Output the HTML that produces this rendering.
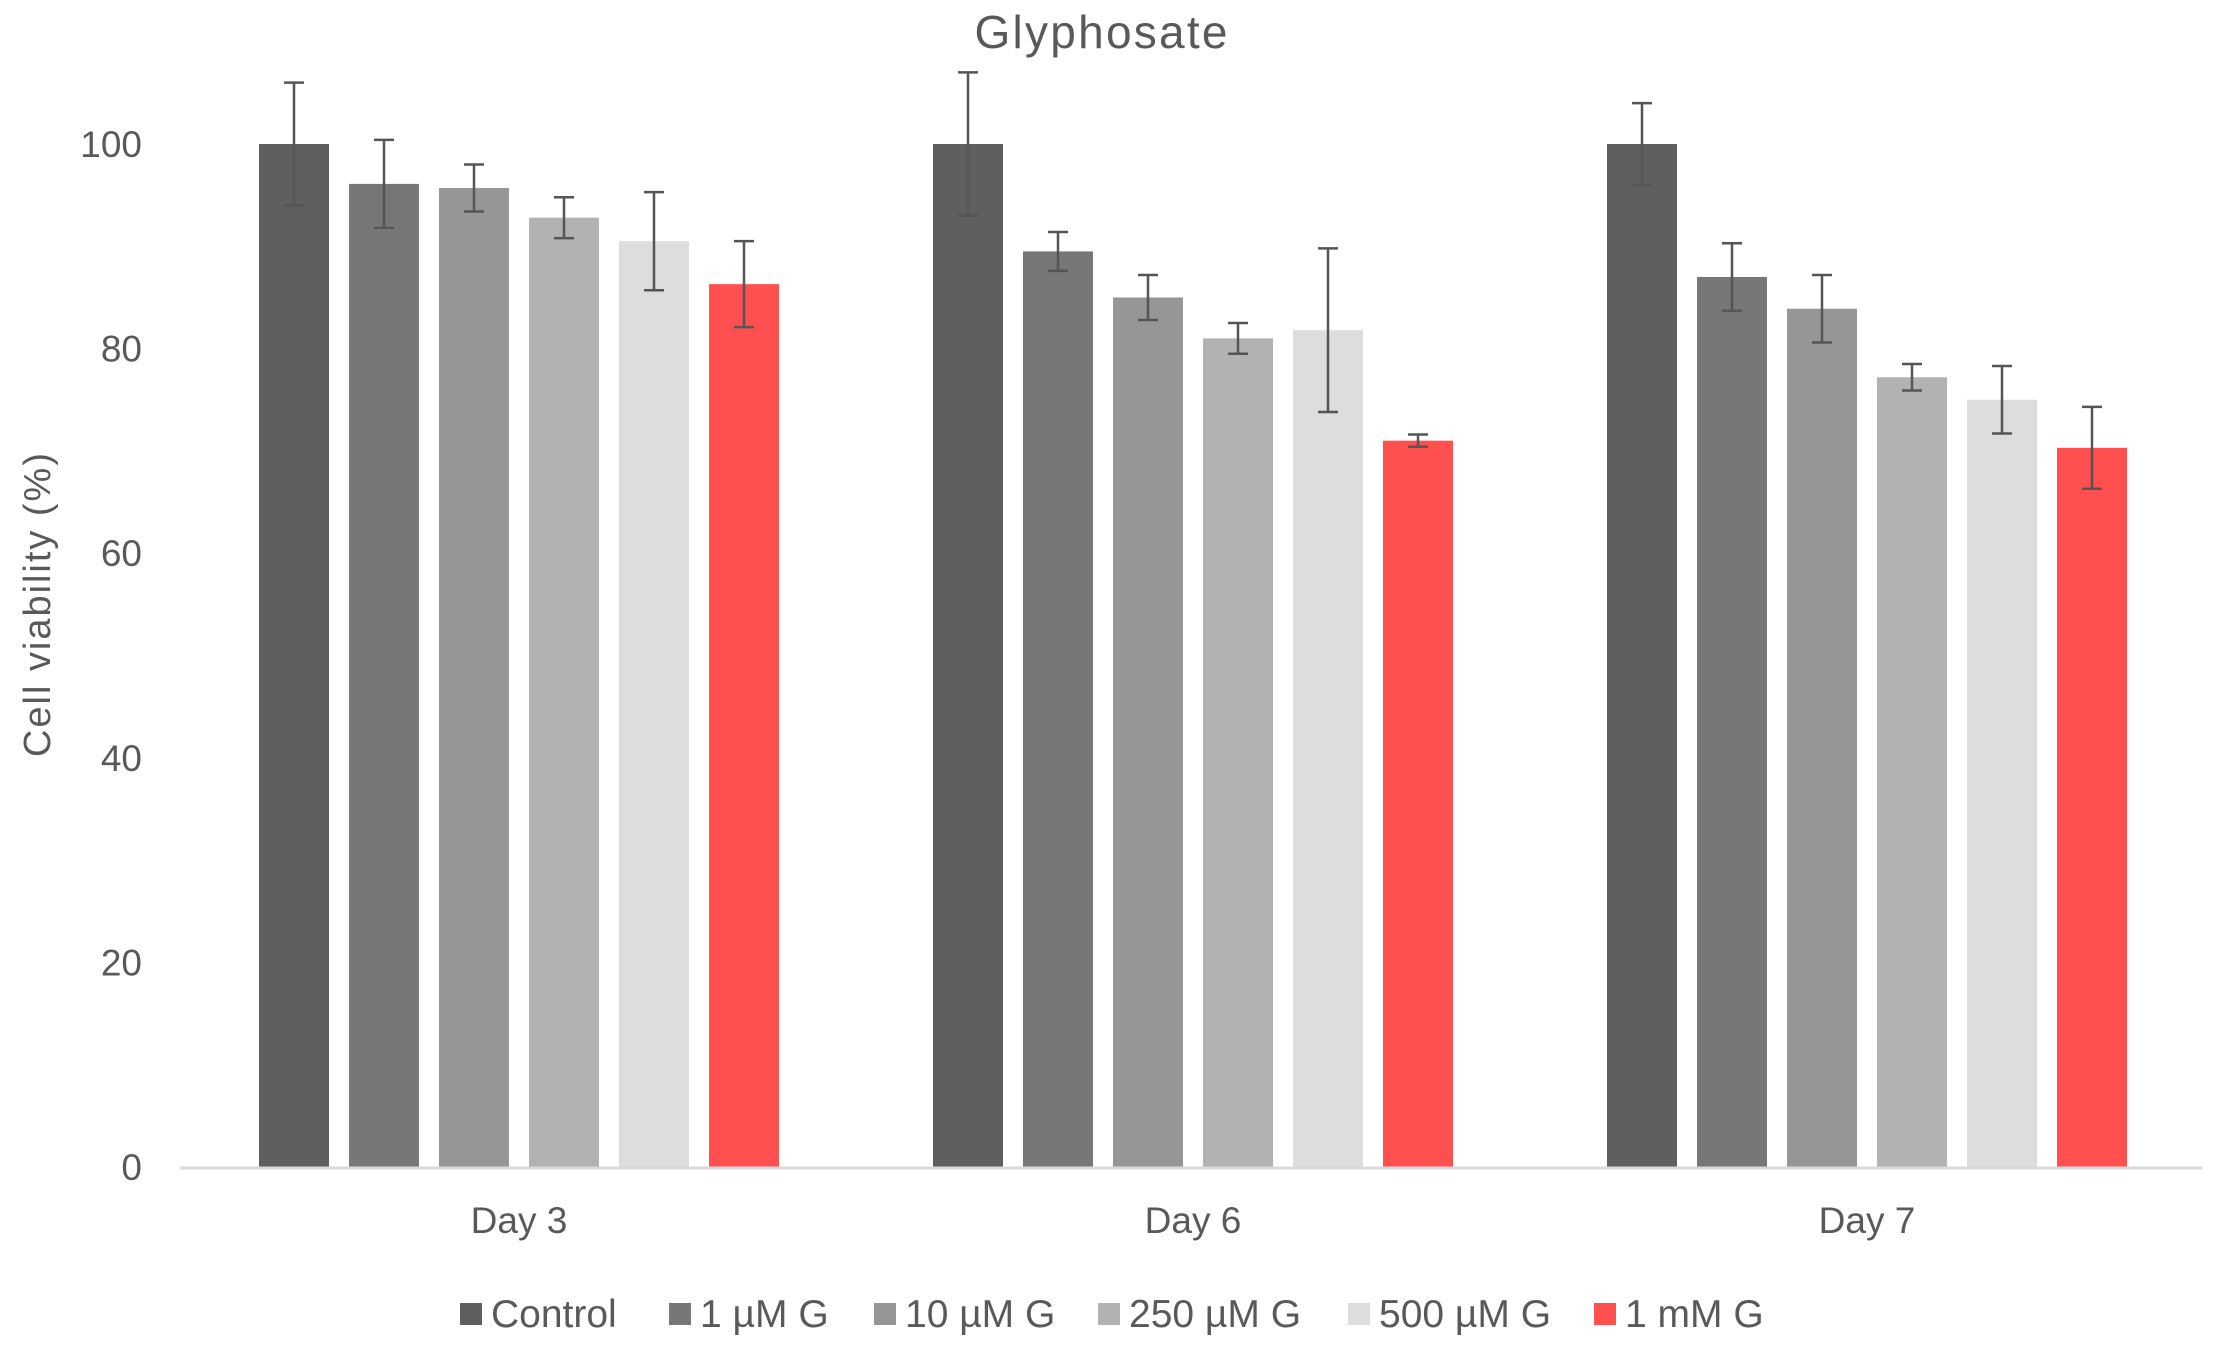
<!DOCTYPE html>
<html><head><meta charset="utf-8"><style>
body{margin:0;background:#fff;}
svg{display:block;font-family:"Liberation Sans","DejaVu Sans",sans-serif;}
</style></head><body>
<svg id="chart" width="2218" height="1346" viewBox="0 0 2218 1346">
<text x="1101" y="48" text-anchor="middle" font-size="46" textLength="253" fill="#595959">Glyphosate</text>
<text transform="translate(50,605) rotate(-90)" text-anchor="middle" font-size="38" textLength="304" fill="#595959">Cell viability  (%)</text>
<g id="yticks"></g>
<g id="bars"></g>
<g id="errs"></g>
<g id="xlabels"></g>
<g id="legend"></g>
</svg>
<script>
const categories = ["Day 3","Day 6","Day 7"];
const seriesNames = ["Control","1 µM G","10 µM G","250 µM G","500 µM G","1 mM G"];
const seriesColors = ["#5f5f5f","#777777","#969696","#b2b2b2","#dddddd","#ff4f4f"];
const sControl = [100,100,100];
const s1uM = [96.1,89.5,87.0];
const s10uM = [95.7,85.0,83.9];
const s250uM = [92.8,81.0,77.2];
const s500uM = [90.5,81.8,75.0];
const s1mM = [86.3,71.0,70.3];
const eControl = [6.0,7.0,4.0];
const e1uM = [4.3,1.9,3.3];
const e10uM = [2.3,2.2,3.3];
const e250uM = [2.0,1.5,1.3];
const e500uM = [4.8,8.0,3.3];
const e1mM = [4.2,0.6,4.0];
const yTicks = [0,20,40,60,80,100];
const legendX = [460,669,874,1098,1348,1594];

const series=[sControl,s1uM,s10uM,s250uM,s500uM,s1mM];
const errs=[eControl,e1uM,e10uM,e250uM,e500uM,e1mM];
const NS="http://www.w3.org/2000/svg";
const x0=182,x1=2204,yBase=1167,yTop=144;
const y=v=>yBase-(v/100)*(yBase-yTop);
const catW=(x1-x0)/categories.length;
const barW=70,barGap=20;
const barX=(c,s)=>x0+catW*(c+0.5)-(series.length*barW+(series.length-1)*barGap)/2+s*(barW+barGap);
function mk(tag,attrs,parent){const e=document.createElementNS(NS,tag);for(const k in attrs)e.setAttribute(k,attrs[k]);document.getElementById(parent).appendChild(e);return e;}

yTicks.forEach(t=>{
 const e=mk("text",{x:142,y:y(t)+13,"text-anchor":"end","font-size":"37",fill:"#595959"},"yticks");
 e.textContent=t;
 
 
});
const ax=mk("line",{x1:180,x2:2202,y1:yBase+1,y2:yBase+1,stroke:"#d9d9d9","stroke-width":3},"xlabels");


categories.forEach((c,i)=>{
 const e=mk("text",{x:x0+catW*(i+0.5),y:1233,"text-anchor":"middle","font-size":"37",fill:"#595959"},"xlabels");
 e.textContent=c;
 
 
});
series.forEach((s,si)=>{
 s.forEach((v,ci)=>{
  const bx=barX(ci,si);
  const r=mk("rect",{x:bx,y:y(v),width:barW,height:yBase-y(v),fill:seriesColors[si]},"bars");
  
  
  const cx=bx+barW/2,e=errs[si][ci];
  const g=mk("path",{d:`M${cx},${y(v+e)}V${y(v-e)}M${cx-10},${y(v+e)}H${cx+10}M${cx-10},${y(v-e)}H${cx+10}`,stroke:"#555",fill:"none","stroke-width":2.5},"errs");
  
  
 });
});
seriesNames.forEach((n,i)=>{
 const r=mk("rect",{x:legendX[i],y:1303,width:22,height:22,fill:seriesColors[i]},"legend");
 
 
 const t=mk("text",{x:legendX[i]+31,y:1327,"font-size":"39",fill:"#595959"},"legend");
 t.textContent=n;
 
 
});
</script>
</body></html>
